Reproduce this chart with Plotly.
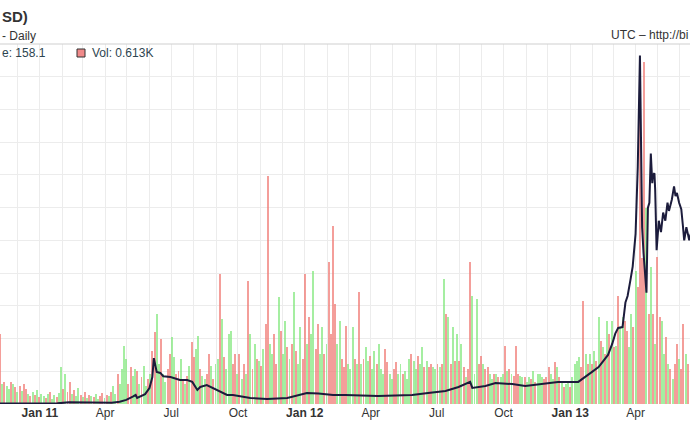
import pandas as pd
import plotly.graph_objects as go

# ---------------- data ----------------
vol_start = "2010-11-07"   # one bar per 3 days
volume = [
    70, 20, 22, 18, 15, 22, 20, 17, 12, 18,
    13, 20, 15, 10, 8, 12, 9, 14, 7, 10,
    8, 6, 10, 12, 5, 9, 7, 11, 37, 15,
    30, 12, 22, 10, 14, 8, 16, 9, 7, 12,
    6, 9, 8, 7, 10, 5, 8, 11, 6, 9,
    8, 12, 18, 10, 30, 20, 35, 58, 45, 20,
    37, 28, 35, 33, 20, 27, 38, 18, 25, 30,
    53, 72, 90, 40, 65, 30, 22, 35, 50, 67,
    47, 30, 33, 45, 25, 20, 28, 38, 62, 47,
    55, 68, 35, 28, 25, 30, 50, 38, 25, 40,
    45, 130, 85, 47, 35, 70, 73, 40, 50, 30,
    50, 25, 40, 30, 123, 70, 35, 60, 45, 43,
    38, 55, 80, 228, 60, 50, 70, 40, 107, 73,
    50, 83, 57, 45, 60, 112, 53, 40, 77, 45,
    130, 60, 87, 70, 133, 55, 80, 50, 77, 50,
    60, 142, 70, 178, 100, 60, 83, 45, 37, 78,
    40, 35, 77, 45, 40, 112, 40, 45, 57, 43,
    48, 35, 53, 40, 60, 35, 30, 55, 42, 30,
    25, 35, 42, 30, 40, 30, 33, 25, 45, 50,
    43, 35, 48, 40, 57, 37, 43, 37, 40, 37,
    35, 40, 37, 40, 125, 90, 87, 40, 77, 43,
    70, 43, 60, 37, 27, 35, 142, 108, 30, 105,
    40, 48, 40, 35, 37, 30, 25, 30, 30, 27,
    27, 30, 58, 33, 35, 30, 28, 58, 30, 28,
    27, 27, 22, 27, 25, 33, 22, 30, 30, 27,
    25, 27, 37, 30, 25, 42, 37, 27, 23, 17,
    20, 23, 17, 27, 40, 43, 47, 37, 103, 50,
    40, 50, 40, 53, 43, 87, 63, 57, 50, 83,
    70, 83, 57, 58, 108, 77, 87, 83, 73, 57,
    90, 77, 133, 117, 333, 146, 342, 196, 90, 137,
    90, 60, 147, 87, 83, 50, 67, 40, 35, 25,
    40, 60, 45, 35, 80, 50, 40,
]
# d = down day (red), g = up day (green), one group of ten bars per entry
direction_groups = [
    "dgdggdgdgd", "gddgdgdgdg", "gdgdggdggd", "gddgdggdgd", "gdgdggddgd",
    "gdggdggggd", "dggdgdggdg", "ddggdggddg", "gddgdgdgdd", "ggdggddgdg",
    "gdgdgggddg", "dgdgdgdgdg", "dgddggddgd", "ggdgdgdggd", "dgdggddggd",
    "gddddggddd", "gggdgdgdgg", "dggdgggddg", "gddggdgggd", "ggdggdgddg",
    "gdgdgdgdgd", "gdgdgddggg", "ddgddggdgd", "ggdgdgdddg", "gdggdgdggg",
    "dddggdgdgd", "ggdggggddg", "dgdgdgdgdg", "dgdgdggddg", "gdgddddgdg",
    "dgddggdgdg", "ddgddgd",
]

price_dates = [
    "2010-11-07", "2010-11-20", "2010-12-10", "2011-01-01", "2011-01-25",
    "2011-02-10", "2011-03-01", "2011-03-25", "2011-04-10", "2011-04-21",
    "2011-04-30", "2011-05-09", "2011-05-13", "2011-05-15", "2011-05-26",
    "2011-06-01", "2011-06-05", "2011-06-07", "2011-06-09", "2011-06-11",
    "2011-06-16", "2011-06-20", "2011-06-30", "2011-07-13", "2011-07-23",
    "2011-07-30", "2011-08-06", "2011-08-10", "2011-08-19", "2011-08-27",
    "2011-09-06", "2011-09-16", "2011-09-24", "2011-10-18", "2011-11-10",
    "2011-12-08", "2012-01-04", "2012-01-20", "2012-02-09", "2012-02-26",
    "2012-04-11", "2012-05-28", "2012-06-19", "2012-07-13", "2012-07-31",
    "2012-08-13", "2012-08-16", "2012-08-19", "2012-09-06", "2012-09-20",
    "2012-10-13", "2012-10-31", "2012-11-28", "2012-12-15", "2013-01-12",
    "2013-01-22", "2013-01-31", "2013-02-09", "2013-02-22", "2013-02-28",
    "2013-03-04", "2013-03-08", "2013-03-14", "2013-03-18", "2013-03-21",
    "2013-03-25", "2013-03-28", "2013-04-01", "2013-04-03", "2013-04-04",
    "2013-04-07", "2013-04-09", "2013-04-10", "2013-04-12", "2013-04-14",
    "2013-04-16", "2013-04-18", "2013-04-20", "2013-04-22", "2013-04-24",
    "2013-04-25", "2013-04-27", "2013-04-28", "2013-04-30", "2013-05-03",
    "2013-05-06", "2013-05-09", "2013-05-12", "2013-05-15", "2013-05-17",
    "2013-05-21", "2013-05-24", "2013-05-26", "2013-05-28", "2013-05-31",
    "2013-06-03", "2013-06-05", "2013-06-07", "2013-06-10", "2013-06-14",
    "2013-06-16",
]
price = [
    0.30, 0.28, 0.23, 0.30, 0.40,
    1.0, 0.90, 0.80, 0.80, 1.4,
    2.5, 4.5, 5.5, 3.7, 6.0,
    9.8, 16.5, 28.0, 22.6, 19.6,
    19.0, 17.0, 16.5, 14.7, 14.7,
    13.5, 8.6, 10.4, 11.6, 9.8,
    7.3, 5.5, 5.5, 3.7, 3.0,
    3.7, 6.7, 6.4, 5.5, 5.5,
    4.9, 5.5, 6.7, 8.0, 10.4,
    12.8, 13.5, 9.8, 11.0, 12.8,
    12.2, 11.0, 12.8, 13.5, 13.5,
    16.5, 19.6, 22.6, 30.0, 37.0,
    43.0, 46.5, 47.0, 62.0, 66.0,
    76.0, 84.0, 104.0, 129.0, 145.0,
    213.0, 130.0, 108.0, 92.0, 80.0,
    68.0, 120.0, 123.0, 153.0, 135.0,
    140.0, 141.0, 131.0, 94.0, 112.0,
    105.0, 117.0, 112.0, 123.0, 118.0,
    125.0, 133.0, 127.0, 129.0, 123.0,
    119.0, 110.0, 100.0, 108.0, 100.0,
    104.0,
]

tick_dates = ["2011-01-01", "2011-04-01", "2011-07-01", "2011-10-01",
              "2012-01-01", "2012-04-01", "2012-07-01", "2012-10-01",
              "2013-01-01", "2013-04-01"]
tick_labels = ["<b>Jan 11</b>", "Apr", "Jul", "Oct",
               "<b>Jan 12</b>", "Apr", "Jul", "Oct",
               "<b>Jan 13</b>", "Apr"]

# ---------------- figure ----------------
direction = "".join(direction_groups)
vol_dates = pd.date_range(vol_start, periods=len(volume), freq="3D")
colors = ["rgba(240,125,120,0.75)" if c == "d" else "rgba(135,232,130,0.75)"
          for c in direction]

W, H = 690, 430
TOP, BOT = 44, 404

fig = go.Figure()
fig.add_trace(go.Bar(
    x=vol_dates, y=volume, marker=dict(color=colors, line=dict(width=0)),
    width=3 * 86400000 * 0.9, yaxis="y", hoverinfo="skip",
))
fig.add_trace(go.Scatter(
    x=pd.to_datetime(price_dates), y=price, mode="lines",
    line=dict(color="#1c1c3c", width=2), yaxis="y2", hoverinfo="skip",
))

grid = "#ececec"
fig.update_layout(
    width=W, height=H,
    margin=dict(l=0, r=0, t=TOP, b=H - BOT, pad=0),
    paper_bgcolor="white", plot_bgcolor="white",
    showlegend=False,
    font=dict(family="Liberation Sans, Arial, sans-serif", color="#333"),
    bargap=0,
    xaxis=dict(
        type="date", automargin=False,
        range=["2010-11-07", "2013-06-15"],
        tickmode="array", tickvals=tick_dates, ticktext=tick_labels,
        showgrid=True, gridcolor=grid, gridwidth=1,
        minor=dict(dtick="M1", tick0="2011-01-01", showgrid=True,
                   gridcolor=grid, gridwidth=1),
        ticks="", tickfont=dict(size=12, color="#333"),
        showline=False, zeroline=False,
    ),
    yaxis=dict(range=[0, 360], showgrid=False, showticklabels=False,
               zeroline=False, fixedrange=True, automargin=False),
    yaxis2=dict(range=[0, 220], dtick=20, overlaying="y", side="right",
                showgrid=True, gridcolor=grid, gridwidth=1, automargin=False,
                showticklabels=False, zeroline=False, ticks=""),
)

def py(p):  # pixel y -> paper y
    return (BOT - p) / (BOT - TOP)

fig.add_shape(type="line", xref="paper", yref="paper", x0=0, x1=1,
              y0=1, y1=1, line=dict(color="#cfcfcf", width=1))
fig.add_shape(type="rect", xref="paper", yref="paper",
              x0=77 / W, x1=85 / W, y0=py(57), y1=py(49),
              fillcolor="#f08a8a", line=dict(color="#333", width=1))

ann = [
    dict(text="<b>SD)</b>", x=0, y=py(16), xanchor="left",
         font=dict(size=15, color="#333")),
    dict(text="- Daily", x=0, y=py(36), xanchor="left",
         font=dict(size=12, color="#333")),
    dict(text="UTC \u2013 http://bi", x=1, y=py(35),
         xanchor="right", font=dict(size=12, color="#333")),
    dict(text="e: 158.1", x=0, y=py(53), xanchor="left",
         font=dict(size=12, color="#2d4550")),
    dict(text="Vol: 0.613K", x=90 / W, y=py(53), xanchor="left",
         font=dict(size=12, color="#2d4550")),
]
for a in ann:
    fig.add_annotation(xref="paper", yref="paper", yanchor="middle",
                       showarrow=False, **a)

fig.write_html("out.html",
               config={"displayModeBar": False},
               post_script="document.body.style.margin='0';"
                           "document.body.style.padding='0';")
